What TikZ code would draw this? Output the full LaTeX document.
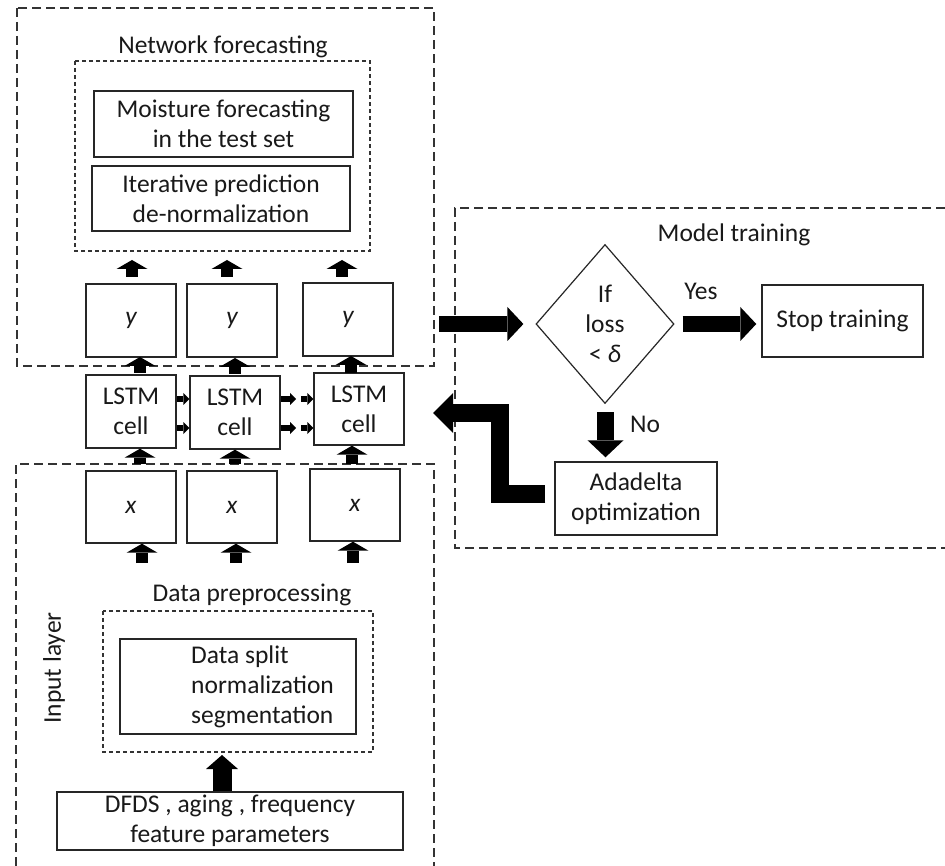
\documentclass[tikz,border=0pt]{standalone}
\usepackage{fontspec}
\setmainfont{Carlito}
\usetikzlibrary{arrows.meta,calc,shapes.geometric}
\begin{document}
\begin{tikzpicture}[x=1pt,y=-1pt,
  every node/.style={font=\fontsize{25.5}{30}\selectfont, text=black!90},
  box/.style={draw=black!85, line width=1.4pt, inner sep=0pt, align=center},
  outerdash/.style={draw=black!80, line width=1.3pt, dash pattern=on 9pt off 5pt},
  innerdash/.style={draw=black!80, line width=1.2pt, dash pattern=on 4pt off 3pt},
  smallup/.style={line width=12pt, -{Triangle[width=31pt,length=9pt,line width=0pt]}},
  smallright/.style={line width=6pt, -{Triangle[width=12pt,length=6pt,line width=0pt]}},
  bigarrow/.style={line width=16pt, -{Triangle[width=34pt,length=16pt,line width=0pt]}},
  elbowarrow/.style={line width=18pt, line join=miter, -{Triangle[width=40pt,length=20pt,line width=0pt]}}
]
\useasboundingbox (0,0) rectangle (945,866);

% ---- Network forecasting block ----
\draw[outerdash] (17,8) rectangle (434,366);
\node at (223,47) {Network forecasting};
\draw[innerdash] (75,61) rectangle (370,251);
\node[box, minimum width=259, minimum height=66] (moist) at (223.5,124) {Moisture forecasting\\in the test set};
\node[box, minimum width=258, minimum height=65] (iter) at (221,198.5) {Iterative prediction\\de-normalization};

\node[box, minimum width=90, minimum height=73] (y1) at (131,320.5) {\itshape y};
\node[box, minimum width=90, minimum height=73] (y2) at (232,320.5) {\itshape y};
\node[box, minimum width=90, minimum height=73] (y3) at (348,319.5) {\itshape y};

% ---- LSTM cells ----
\node[box, minimum width=90, minimum height=73] (c1) at (131,411.5) {LSTM\\cell};
\node[box, minimum width=90, minimum height=73] (c2) at (235,412.5) {LSTM\\cell};
\node[box, minimum width=90, minimum height=72] (c3) at (359,409) {LSTM\\cell};

% ---- Input layer block ----
\draw[outerdash] (16,866) -- (16,464) -- (434,464) -- (434,866);
\node[rotate=90] at (54,668) {Input layer};
\node[box, minimum width=90, minimum height=72] (x1) at (131,507) {\itshape x};
\node[box, minimum width=90, minimum height=72] (x2) at (232,507) {\itshape x};
\node[box, minimum width=90, minimum height=72] (x3) at (355,505) {\itshape x};

\node at (252,595) {Data preprocessing};
\draw[innerdash] (103,611) rectangle (373,752);
\node[box, minimum width=236, minimum height=95] (prep) at (238,686.5) {};
\node[align=left, anchor=west, inner sep=0pt] (preptxt) at (191,687) {Data split\\normalization\\segmentation};
\node[box, minimum width=346, minimum height=58] (feat) at (230,821) {DFDS , aging , frequency\\feature parameters};

% ---- Model training block ----
\draw[outerdash] (945,208) -- (455,208) -- (455,548) -- (945,548);
\node at (734,235) {Model training};
\node[diamond, draw=black!85, line width=1.2pt, inner sep=0pt, aspect=0.87,
      minimum width=138, minimum height=159, align=center] (dia) at (605,324) {If\\loss\\< {\itshape δ}};
\node[box, minimum width=161, minimum height=72] (stop) at (842.5,321) {Stop training};
\node[box, minimum width=162, minimum height=73] (ada) at (636,498.5) {Adadelta\\optimization};
\node at (701,291) {Yes};
\node at (645,424) {No};

% ---- small block arrows ----
\foreach \i/\xx in {1/132,2/227,3/342}{
  \coordinate (ot\i) at (\xx,277);
  \coordinate (oh\i) at (\xx,260);
}
\draw[smallup] (ot1) -- (oh1);
\draw[smallup] (ot2) -- (oh2);
\draw[smallup] (ot3) -- (oh3);

\draw[smallup] (140,373) -- (140,357);
\draw[smallup] (235,374) -- (235,358);
\draw[smallup] (351,373) -- (351,356);

\draw[smallup] (140,464) -- (c1.south -| 140,0);
\draw[smallup] (235,464) -- (c2.south -| 235,0);
\draw[smallup] (352,464) -- (c3.south -| 352,0);

\draw[smallup] (142,563) -- (x1.south -| 142,0);
\draw[smallup] (236,563) -- (x2.south -| 236,0);
\draw[smallup] (353,563) -- (x3.south -| 353,0);

\draw[smallright] (c1.east |- 0,399) -- (c2.west |- 0,399);
\draw[smallright] (c1.east |- 0,428) -- (c2.west |- 0,428);
\draw[smallright] (c2.east |- 0,399) -- (296,399);
\draw[smallright] (c2.east |- 0,428) -- (296,428);
\draw[smallright] (301,399) -- (c3.west |- 0,399);
\draw[smallright] (301,428) -- (c3.west |- 0,428);

% data flow up from the feature parameters
\draw[line width=19pt, -{Triangle[width=32pt,length=14pt,line width=0pt]}] (feat.north -| 222,0) -- (222,755);

% ---- big block arrows ----
\coordinate (fwd) at (439,324);
\draw[bigarrow] (fwd) -- ($(dia.west)+(-12,0)$);
\draw[bigarrow] ($(dia.east)+(8,0)$) -- ($(stop.west |- dia.east)+(-5,0)$);
\draw[line width=17pt, -{Triangle[width=36pt,length=17pt,line width=0pt]}] ($(dia.south)+(0.5,8)$) -- ($(dia.south |- ada.north)+(0.5,-4)$);
\coordinate (back) at (433,413);
\draw[elbowarrow] ($(ada.west)+(-9,-5)$) -- (499.5,493.5) -- (499.5,413) -- (back);
\end{tikzpicture}
\end{document}
